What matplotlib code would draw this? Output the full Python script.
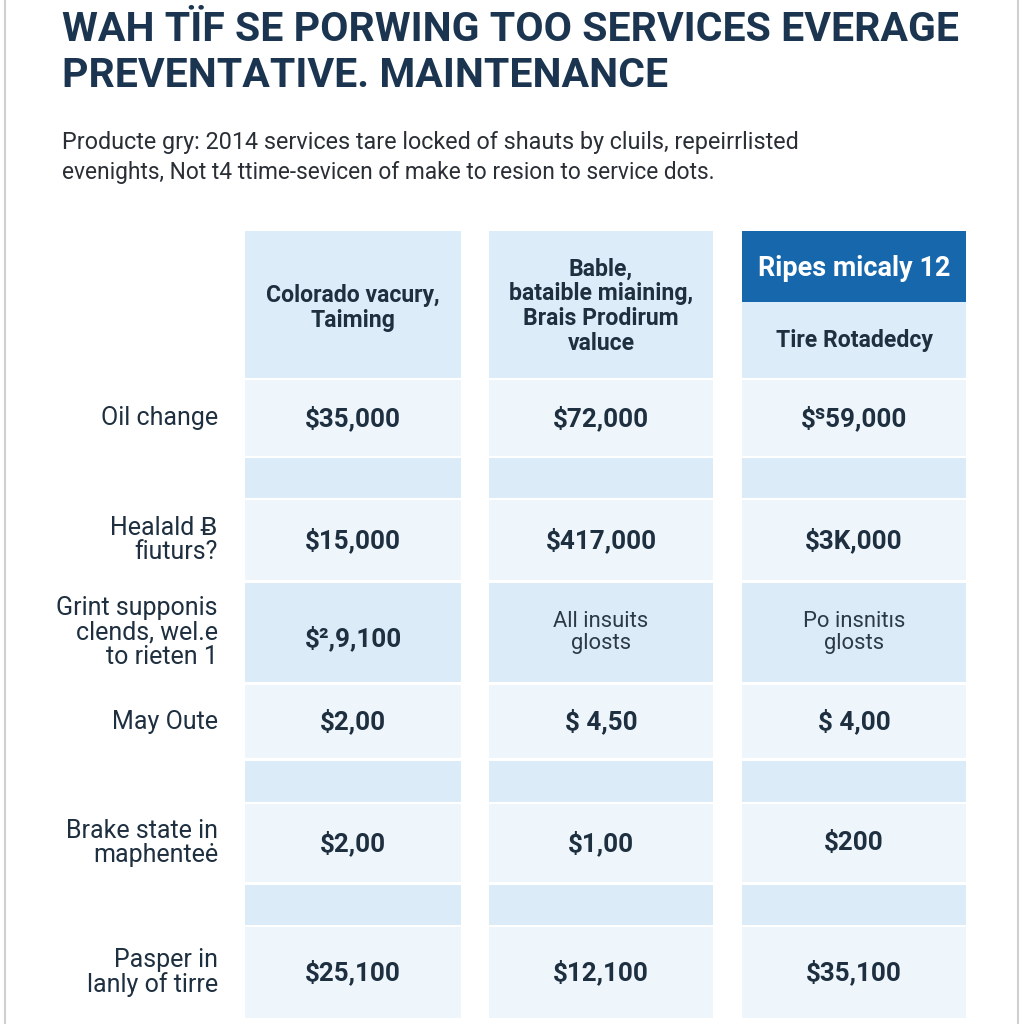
import matplotlib
matplotlib.use("Agg")
import matplotlib.pyplot as plt
from matplotlib.patches import Rectangle
from matplotlib import font_manager

# ---------------- data ----------------
title_lines = ["WAH TÏF SE PORWING TOO SERVICES EVERAGE", "PREVENTATIVE. MAINTENANCE"]
subtitle_lines = ["Producte gry: 2014 services tare locked of shauts by cluils, repeirrlisted",
                  "evenights, Not t4 ttime-sevicen of make to resion to service dots."]
col_headers = ["Colorado vacury,\nTaiming",
               "Bable,\nbataible miaining,\nBrais Prodirum\nvaluce",
               "Tire Rotadedcy"]
highlight_header = "Ripes micaly 12"
row_labels = ["Oil change", "", "Healald \u0243\nfiuturs?", "Grint supponis\nclends, wel.e\nto rieten 1",
              "May Oute", "", "Brake state in\nmaphenteė", "", "Pasper in\nlanly of tirre"]
col1_values = ["$35,000", "", "$15,000", "$\u00b2,9,100", "$2,00", "", "$2,00", "", "$25,100"]
col2_values = ["$72,000", "", "$417,000", "All insuits\nglosts", "$ 4,50", "", "$1,00", "", "$12,100"]
col3_values = ["$\u02e259,000", "", "$3K,000", "Po insnitıs\nglosts", "$ 4,00", "", "$200", "", "$35,100"]

# ---------------- layout ----------------
avail = {f.name for f in font_manager.fontManager.ttflist}
narrow = "Liberation Sans Narrow" if "Liberation Sans Narrow" in avail else "Roboto"
FONT = [narrow, "DejaVu Sans"]
PT = 0.72  # px -> pt at dpi 100

navy = "#1b3550"
txt = "#1e2f40"
hdr_bg = "#dcecf8"
light_bg = "#eef6fc"
band_bg = "#dbecf8"
blue = "#1767ad"

fig = plt.figure(figsize=(10.24, 10.24), dpi=100)
ax = fig.add_axes([0, 0, 1, 1])
ax.set_xlim(0, 1024)
ax.set_ylim(1024, 0)
ax.axis("off")
renderer = fig.canvas.get_renderer()


def fit_width(t, target_px):
    bb = t.get_window_extent(renderer=renderer)
    t.set_fontsize(t.get_fontsize() * target_px / bb.width)


# frame lines
ax.plot([5, 5], [0, 1024], color="#d0d0d0", lw=1.5)
ax.plot([1018, 1018], [0, 1024], color="#d0d0d0", lw=1.5)

# title
title_widths = [896, 606]
title_y = [30, 76]
for i, line in enumerate(title_lines):
    t = ax.text(62, title_y[i], line, fontsize=50 * PT, fontweight="bold", color=navy,
                family=FONT, ha="left", va="center")
    fit_width(t, title_widths[i])
sub_widths = [736, 655]
for i, line in enumerate(subtitle_lines):
    t = ax.text(62, 143 + 30 * i, line, fontsize=25 * PT, color="#2a2f36",
                family=FONT, ha="left", va="center")
    fit_width(t, sub_widths[i])

cols = [(245, 461), (489, 713), (742, 966)]
col_values = [col1_values, col2_values, col3_values]
rows = [(380, 456), (458, 498), (500, 580), (583, 682), (685, 758), (761, 802),
        (804, 882), (885, 925), (927, 1018)]
row_kind = ["light", "band", "light", "band", "light", "band", "light", "band", "light"]

# header cells
for ci, (x0, x1) in enumerate(cols):
    if ci == 2:
        ax.add_patch(Rectangle((x0, 231), x1 - x0, 71, color=blue, lw=0))
        ax.add_patch(Rectangle((x0, 302), x1 - x0, 76, color=hdr_bg, lw=0))
        ax.text((x0 + x1) / 2, 268, highlight_header, fontsize=27 * PT, fontweight="bold",
                color="white", family=FONT, ha="center", va="center")
        ax.text((x0 + x1) / 2, 340, col_headers[ci], fontsize=23 * PT, fontweight="bold",
                color=txt, family=FONT, ha="center", va="center")
    else:
        ax.add_patch(Rectangle((x0, 231), x1 - x0, 147, color=hdr_bg, lw=0))
        ax.text((x0 + x1) / 2, 308 if ci == 0 else 306, col_headers[ci], fontsize=23 * PT,
                fontweight="bold", color=txt, family=FONT, ha="center", va="center",
                linespacing=1.1)

# body cells
for ri, (y0, y1) in enumerate(rows):
    bg = light_bg if row_kind[ri] == "light" else band_bg
    yc = (y0 + y1) / 2
    if row_labels[ri]:
        ax.text(218, yc, row_labels[ri], fontsize=25 * PT, color=txt, family=FONT,
                ha="right", va="center", linespacing=1.05)
    for ci, (x0, x1) in enumerate(cols):
        ax.add_patch(Rectangle((x0, y0), x1 - x0, y1 - y0, color=bg, lw=0))
        v = col_values[ci][ri]
        if not v:
            continue
        if "\n" in v:
            ax.text((x0 + x1) / 2, yc, v, fontsize=22 * PT, color="#2c3a48", family=FONT,
                    ha="center", va="center", linespacing=1.1)
        else:
            ax.text((x0 + x1) / 2, yc + (6 if ri == 3 else 0), v, fontsize=26 * PT,
                    fontweight="semibold", color=txt, family=FONT, ha="center", va="center")

fig.savefig("out.png", dpi=100, facecolor="white")
